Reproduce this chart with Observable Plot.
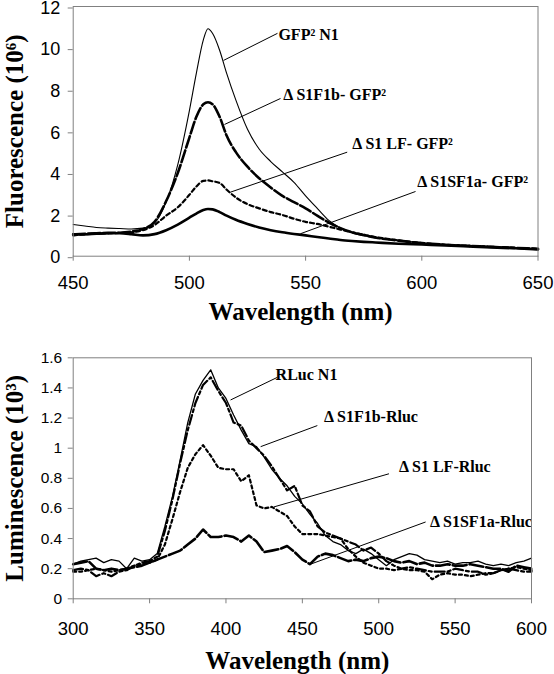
<!DOCTYPE html>
<html><head><meta charset="utf-8">
<script src="https://cdn.jsdelivr.net/npm/d3@7"></script>
<script src="https://cdn.jsdelivr.net/npm/@observablehq/plot@0.6"></script>
<style>body{margin:0;background:#fff}#chart{width:554px}#chart svg{display:block}</style>
</head><body><div id="chart"></div>
<script>
// ---------- Top panel: fluorescence ----------
const topWavelength = [450,455,460,465,470,475,480,485,490,495,500,503,506,508,510,513,516,520,525,530,535,540,545,550,555,560,565,570,575,580,590,600,610,620,630,640,650];
const gfpN1      = [1.52,1.45,1.38,1.35,1.33,1.31,1.35,1.6,2.6,4.4,7.0,8.8,10.4,10.93,10.7,9.9,8.8,7.5,6.1,5.15,4.55,4.05,3.55,2.9,2.3,1.72,1.35,1.12,0.98,0.88,0.75,0.64,0.56,0.5,0.45,0.4,0.35];
const s1f1bGfp   = [1.05,1.08,1.1,1.12,1.13,1.18,1.3,1.65,2.65,4.0,5.7,6.7,7.3,7.4,7.3,6.7,5.8,5.0,4.3,3.75,3.3,2.9,2.6,2.3,1.95,1.62,1.35,1.15,1.02,0.9,0.75,0.63,0.55,0.5,0.45,0.4,0.35];
const s1lfGfp    = [1.0,1.05,1.08,1.1,1.12,1.15,1.25,1.5,1.95,2.35,2.95,3.35,3.62,3.64,3.6,3.52,3.2,2.82,2.5,2.3,2.12,1.98,1.8,1.65,1.55,1.42,1.28,1.15,1.03,0.92,0.76,0.63,0.55,0.5,0.45,0.4,0.35];
const s1sf1aGfp  = [1.05,1.05,1.08,1.1,1.1,1.06,1.0,1.06,1.25,1.52,1.85,2.05,2.22,2.27,2.25,2.12,1.95,1.75,1.55,1.38,1.25,1.15,1.07,1.0,0.92,0.85,0.78,0.73,0.69,0.66,0.6,0.56,0.52,0.47,0.42,0.38,0.33];
const topXTicks = [450,500,550,600,650];
const topYTicks = [0,2,4,6,8,10,12];
const topXTitle = "Wavelength (nm)";
const topYTitle = "Fluorescence (10\u2076)";
const topLabels = ["GFP\u00b2 N1","\u0394 S1F1b- GFP\u00b2","\u0394 S1 LF- GFP\u00b2","\u0394 S1SF1a- GFP\u00b2"];
const topLabelW = [538.3,540.4,570.1,598.0];
const topLabelV = [10.66,7.73,5.40,3.56];
const topLeaderW1 = [514.7,515.1,517.7,547.8];
const topLeaderV1 = [9.41,6.33,3.08,1.08];
const topLeaderW2 = [537.9,539.2,567.9,597.3];
const topLeaderV2 = [10.71,7.58,5.0,3.11];

// ---------- Bottom panel: luminescence ----------
const botWavelength = [300,305,310,315,320,325,330,335,340,345,350,355,360,365,370,375,380,385,390,395,400,405,410,415,420,425,430,435,440,445,450,455,460,465,470,475,480,485,490,495,500,505,510,515,520,525,530,535,540,545,550,555,560,565,570,575,580,585,590,595,600];
const rlucN1 = [0.23,0.25,0.26,0.27,0.24,0.26,0.25,0.2,0.27,0.25,0.26, 0.3,0.48,0.68,0.92,1.17,1.36,1.45,1.52,1.4,1.33, 1.22,1.12,1.03,1.01,0.94,0.86,0.8,0.75,0.68,0.63, 0.56,0.5,0.42,0.38,0.36,0.32,0.3,0.33,0.3,0.26, 0.22,0.26,0.28,0.3,0.29,0.26,0.25,0.24,0.25,0.23, 0.24,0.24,0.25,0.23,0.22,0.23,0.22,0.24,0.25,0.27];
const s1f1bRluc = [0.19,0.2,0.19,0.15,0.17,0.15,0.18,0.19,0.22,0.24,0.25, 0.28,0.45,0.66,0.9,1.12,1.3,1.42,1.47,1.38,1.3, 1.17,1.15,1.05,1.0,0.95,0.88,0.8,0.72,0.75,0.62, 0.58,0.48,0.44,0.42,0.4,0.38,0.36,0.32,0.34,0.3, 0.25,0.22,0.2,0.21,0.2,0.19,0.18,0.18,0.18,0.2, 0.19,0.18,0.18,0.16,0.17,0.19,0.2,0.19,0.18,0.18];
const s1lfRluc = [0.18,0.18,0.19,0.2,0.19,0.18,0.19,0.2,0.22,0.23,0.24, 0.26,0.36,0.53,0.71,0.87,0.96,1.02,0.95,0.87,0.86, 0.86,0.78,0.82,0.62,0.6,0.61,0.58,0.55,0.48,0.43, 0.43,0.43,0.42,0.41,0.4,0.33,0.28,0.24,0.22,0.2, 0.2,0.19,0.2,0.19,0.19,0.18,0.13,0.16,0.17,0.16, 0.16,0.15,0.16,0.17,0.17,0.19,0.2,0.21,0.2,0.19];
const s1sf1aRluc = [0.23,0.24,0.25,0.2,0.19,0.2,0.19,0.2,0.21,0.22,0.24, 0.26,0.28,0.3,0.32,0.36,0.4,0.46,0.41,0.41,0.42, 0.41,0.38,0.42,0.38,0.31,0.32,0.33,0.35,0.31,0.26, 0.23,0.28,0.3,0.29,0.27,0.25,0.26,0.25,0.27,0.28, 0.27,0.25,0.24,0.25,0.23,0.24,0.22,0.22,0.23,0.22, 0.22,0.23,0.22,0.21,0.2,0.2,0.18,0.22,0.21,0.2];
const botXTicks = [300,350,400,450,500,550,600];
const botYTicks = [0,0.2,0.4,0.6,0.8,1,1.2,1.4,1.6];
const botXTitle = "Wavelength (nm)";
const botYTitle = "Luminescence (10\u00b3)";
const botLabels = ["RLuc N1","\u0394 S1F1b-Rluc","\u0394 S1 LF-Rluc","\u0394 S1SF1a-Rluc"];
const botLabelW = [432.5,464.1,513.2,533.5];
const botLabelV = [1.484,1.207,0.874,0.509];
const botLeaderW1 = [403.0,422.7,431.4,455.4];
const botLeaderV1 = [1.32,1.01,0.61,0.23];
const botLeaderW2 = [433.6,459.8,506.7,530.7];
const botLeaderV2 = [1.47,1.15,0.83,0.51];

// ---------- helpers ----------
const rows = (wl, vals) => wl.map((w, i) => ({w, v: vals[i]}));
const labelRows = (t, w, v) => t.map((s, i) => ({s, w: w[i], v: v[i]}));
const leaderRows = (w1, v1, w2, v2) => w1.map((_, i) => ({w1: w1[i], v1: v1[i], w2: w2[i], v2: v2[i]}));
const SERIF = "'Liberation Serif','Times New Roman',serif";
const SANS = "'Liberation Sans',Arial,sans-serif";
const AX = "#808080";

function panel({height, mt, mb, mr, xDomain, yDomain, xTicks, yTicks, series, labels, leaders, xTitle, yTitle, yFont, yDy, xPad, yPad, xTitleDy, curve}) {
  return Plot.plot({
    width: 554, height,
    marginLeft: 72.7, marginRight: mr, marginTop: mt, marginBottom: mb,
    x: {domain: xDomain}, y: {domain: yDomain},
    marks: [
      ...series.map(s => Plot.line(s.data, {x: "w", y: "v", stroke: "black", strokeWidth: s.width, strokeDasharray: s.dash, curve, strokeLinejoin: "round"})),
      Plot.link(leaders, {x1: "w1", y1: "v1", x2: "w2", y2: "v2", stroke: "black", strokeWidth: 1}),
      Plot.text(labels, {x: "w", y: "v", text: "s", textAnchor: "start", fontFamily: SERIF, fontWeight: "bold", fontSize: 16, fill: "black"}),
      Plot.frame({stroke: AX}),
      Plot.axisX({ticks: xTicks, tickSize: 5, tickPadding: xPad, stroke: AX, fill: "black", fontSize: 18.5, fontFamily: SANS, label: null, tickFormat: d => String(d)}),
      Plot.axisY({ticks: yTicks, tickSize: 5, tickPadding: yPad, stroke: AX, fill: "black", fontSize: yFont, dy: yDy, fontFamily: SANS, label: null, tickFormat: d => String(d)}),
      Plot.text([xTitle], {frameAnchor: "bottom", textAnchor: "middle", lineAnchor: "middle", dx: -5, dy: xTitleDy, fontFamily: SERIF, fontWeight: "bold", fontSize: 25, fill: "black"}),
      Plot.text([yTitle], {frameAnchor: "left", textAnchor: "middle", lineAnchor: "middle", rotate: -90, dx: -58.5, fontFamily: SERIF, fontWeight: "bold", fontSize: 25, fill: "black"})
    ]
  });
}

const topChart = panel({
  height: 330, mt: 6, mb: 74.3, mr: 16.5,
  xDomain: [450, 650], yDomain: [0, 12], xTicks: topXTicks, yTicks: topYTicks,
  series: [
    {data: rows(topWavelength, gfpN1), width: 1.1, dash: null},
    {data: rows(topWavelength, s1f1bGfp), width: 2.6, dash: "12,3"},
    {data: rows(topWavelength, s1lfGfp), width: 2.2, dash: "4,3"},
    {data: rows(topWavelength, s1sf1aGfp), width: 2.6, dash: null}
  ],
  labels: labelRows(topLabels, topLabelW, topLabelV),
  leaders: leaderRows(topLeaderW1, topLeaderV1, topLeaderW2, topLeaderV2),
  xTitle: topXTitle, yTitle: topYTitle, yFont: 18, yDy: 1.5, xPad: 15, yPad: 8, xTitleDy: 56, curve: "monotone-x"
});

const bottomChart = panel({
  height: 344, mt: 27.3, mb: 75.7, mr: 23,
  xDomain: [300, 600], yDomain: [0, 1.6], xTicks: botXTicks, yTicks: botYTicks,
  series: [
    {data: rows(botWavelength, rlucN1), width: 1.3, dash: null},
    {data: rows(botWavelength, s1f1bRluc), width: 2.2, dash: "10,3,3,3"},
    {data: rows(botWavelength, s1lfRluc), width: 2.2, dash: "3,3"},
    {data: rows(botWavelength, s1sf1aRluc), width: 2.6, dash: "14,3"}
  ],
  labels: labelRows(botLabels, botLabelW, botLabelV),
  leaders: leaderRows(botLeaderW1, botLeaderV1, botLeaderW2, botLeaderV2),
  xTitle: botXTitle, yTitle: botYTitle, yFont: 15.5, yDy: 0, xPad: 18, yPad: 6, xTitleDy: 62, curve: "linear"
});

document.getElementById("chart").append(topChart, bottomChart);
</script></body></html>
